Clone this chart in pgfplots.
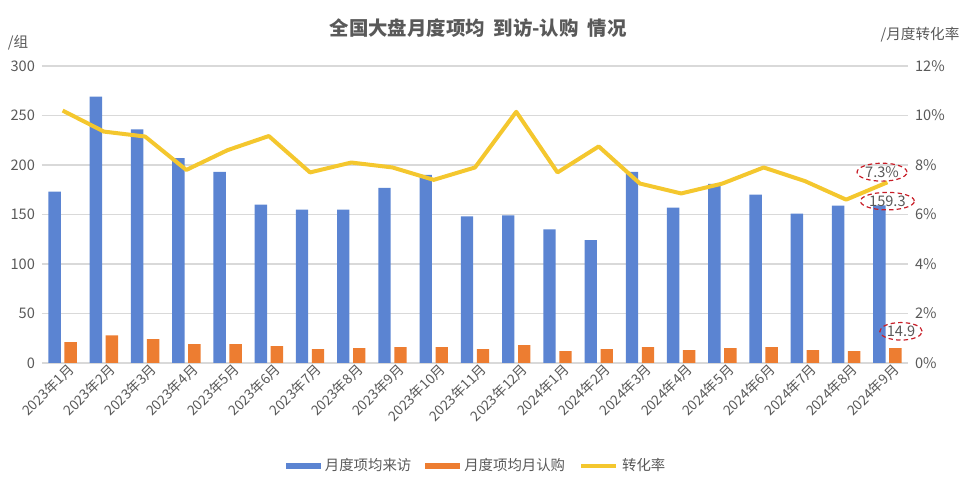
\documentclass[border=0pt]{standalone}
\usepackage{pgfplots}
\pgfplotsset{compat=1.18}
\usepackage{fontspec}
\setmainfont{Noto Sans CJK SC}
\usetikzlibrary{shapes.geometric}

\definecolor{cblue}{RGB}{91,132,210}
\definecolor{corange}{RGB}{237,125,49}
\definecolor{cyellow}{RGB}{244,199,46}
\definecolor{ctext}{RGB}{89,89,89}
\definecolor{cgrid}{RGB}{217,217,217}
\definecolor{cred}{RGB}{200,30,40}

\pgfplotstableread{
x visit buy rate
0  173   21   10.2
1  269   28   9.35
2  236   24   9.15
3  207   19   7.8
4  193   19   8.6
5  160   17   9.17
6  155   14   7.7
7  155   15   8.1
8  177   16   7.9
9  190   16   7.4
10 148   14   7.9
11 149   18   10.15
12 135   12   7.7
13 124   14   8.75
14 193   16   7.25
15 157   13   6.85
16 181   15   7.25
17 170   16   7.9
18 151   13   7.35
19 159   12   6.6
20 159.3 14.9 7.3
}\datatable

\begin{document}
\begin{tikzpicture}
\path[use as bounding box] (0,0) rectangle (480pt,243.5pt);

\begin{axis}[
  scale only axis,
  width=433pt, height=148.5pt,
  at={(21pt,62pt)}, anchor=south west,
  ybar=1.8pt, bar width=6.2pt,
  xmin=-0.5, xmax=20.5,
  ymin=0, ymax=300,
  ytick={0,50,...,300},
  xtick={0,...,20},
  xticklabels={2023年1月,2023年2月,2023年3月,2023年4月,2023年5月,2023年6月,2023年7月,2023年8月,2023年9月,2023年10月,2023年11月,2023年12月,2024年1月,2024年2月,2024年3月,2024年4月,2024年5月,2024年6月,2024年7月,2024年8月,2024年9月},
  x tick label style={rotate=45, anchor=north east, font=\fontsize{6.9}{8}\selectfont, text=ctext, inner sep=1pt, xshift=3pt},
  y tick label style={font=\fontsize{7.3}{8}\selectfont, text=ctext},
  /pgf/number format/assume math mode=true,
  major tick length=0pt,
  axis x line*=bottom,
  axis y line*=left,
  y axis line style={draw=none},
  x axis line style={cgrid, line width=0.8pt},
  ymajorgrids=true,
  grid style={cgrid, line width=0.6pt},
  clip=false,
  legend columns=3,
  legend style={draw=none, at={(0.503,-0.347)}, anchor=center,
    font=\fontsize{7.2}{8}\selectfont, text=ctext,
    /tikz/every even column/.append style={column sep=5pt}},
]
\addplot[fill=cblue, draw=none,
  legend image code/.code={\fill[cblue] (0pt,-1.3pt) rectangle (17.5pt,1.3pt);}]
  table[x=x, y=visit] {\datatable};
\addlegendentry{月度项均来访}
\addplot[fill=corange, draw=none,
  legend image code/.code={\fill[corange] (0pt,-1.3pt) rectangle (17.5pt,1.3pt);}]
  table[x=x, y=buy] {\datatable};
\addlegendentry{月度项均月认购}
\addlegendimage{legend image code/.code={\draw[cyellow, line width=2pt] (0pt,0pt) -- (17.5pt,0pt);}}
\addlegendentry{转化率}
\end{axis}

\begin{axis}[
  scale only axis,
  width=433pt, height=148.5pt,
  at={(21pt,62pt)}, anchor=south west,
  xmin=-0.5, xmax=20.5,
  ymin=0, ymax=12,
  ytick={0,2,...,12},
  yticklabels={0\%,2\%,4\%,6\%,8\%,10\%,12\%},
  y tick label style={font=\fontsize{7.3}{8}\selectfont, text=ctext},
  major tick length=0pt,
  axis y line*=right,
  y axis line style={draw=none},
  axis x line=none,
  clip=false,
]
\addplot[cyellow, line width=2pt, line join=round, mark=none]
  table[x=x, y=rate] {\datatable};
\tikzset{anno/.style={draw=cred, dashed, dash pattern=on 2.2pt off 1.6pt, ellipse,
  line width=0.6pt, inner sep=0.4pt, text=ctext, font=\fontsize{7.3}{8}\selectfont}}
\node[anno] at (axis cs:19.87,7.71) {7.3\%};
\node[anno] at (axis cs:20,6.54) {159.3};
\node[anno] at (axis cs:20.33,1.28) {14.9};
\end{axis}

\node[font=\bfseries\fontsize{9.7}{11}\selectfont, text=ctext] at (239pt,229.5pt)
  {全国大盘月度项均\ \ 到访-认购\ \ 情况};
\node[font=\fontsize{7.3}{8}\selectfont, text=ctext] at (9pt,222pt) {/组};
\node[font=\fontsize{7.3}{8}\selectfont, text=ctext] at (460pt,226pt) {/月度转化率};
\end{tikzpicture}
\end{document}
